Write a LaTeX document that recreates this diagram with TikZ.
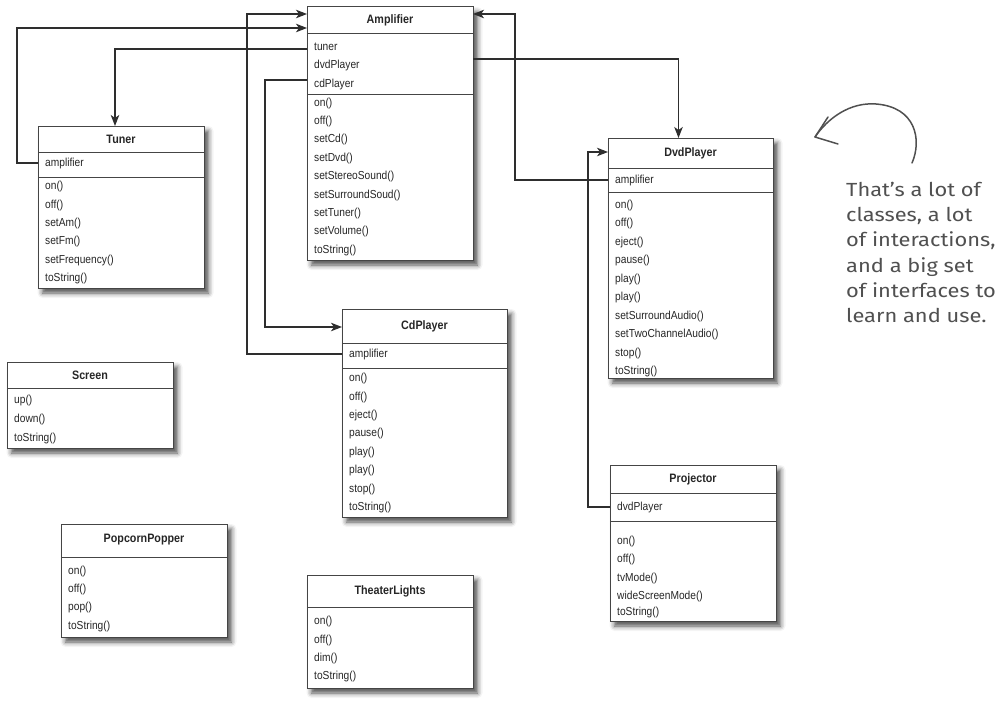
\documentclass[tikz,border=0pt]{standalone}
\usepackage{fontspec}
\setmainfont{Liberation Sans}
\newfontfamily\itemfont{Liberation Sans}[FakeStretch=0.88]
\newfontfamily\handfont{Fira Sans}[FakeStretch=1.15]
\usetikzlibrary{arrows.meta,shadows.blur,calc}
\definecolor{linec}{HTML}{2E2E2E}
\definecolor{boxc}{HTML}{454545}
\definecolor{textc}{HTML}{262626}
\definecolor{handc}{HTML}{505050}
\tikzset{
  umlbox/.style={draw=boxc, line width=1pt, fill=white, inner sep=0pt, outer sep=0pt,
    blur shadow={shadow xshift=4.5pt, shadow yshift=-5pt, shadow blur radius=5pt, shadow opacity=70}},
  boxline/.style={draw=boxc, line width=1pt},
  title/.style={font=\itemfont\fontsize{12.2}{14}\selectfont\bfseries, text=textc, inner sep=0pt},
  item/.style={font=\itemfont\fontsize{11.6}{13}\selectfont, text=textc, inner sep=0pt, anchor=west,
    text height=8.6pt, text depth=2.4pt},
  conn/.style={draw=linec, line width=1.2pt, -{Stealth[length=11pt,width=8.5pt,inset=3pt]}},
  hand/.style={font=\handfont\fontsize{19}{25.2}\selectfont, text=handc, align=left, inner sep=0pt},
}
\newcommand{\umlbox}[5]{%
  \node[umlbox, minimum width={#4-#2}, minimum height={#5-#3}] (#1) at ({(#2+#4)/2},{(#3+#5)/2}) {};}
\newcommand{\divider}[2]{\draw[boxline] (#1.west |- 0,#2) -- (#1.east |- 0,#2);}
\begin{document}
\begin{tikzpicture}[x=1pt,y=-1pt]
\useasboundingbox (0,0) rectangle (1000,709);

% ---------- Amplifier ----------
\umlbox{amp}{307}{7}{473}{260}
\divider{amp}{34}\divider{amp}{94}
\node[title] (ampT) at ($(amp.north)+(0,13.5)$) {Amplifier};
\node[item] (ampTuner) at (314,47) {tuner};
\node[item] (ampDvd) at (314,65) {dvdPlayer};
\node[item] (ampCd) at (314,84) {cdPlayer};
\node[item] (ampM1) at (314,103) {on()};
\node[item] (ampM2) at (314,121) {off()};
\node[item] (ampM3) at (314,139) {setCd()};
\node[item] (ampM4) at (314,158) {setDvd()};
\node[item] (ampM5) at (314,176) {setStereoSound()};
\node[item] (ampM6) at (314,195) {setSurroundSoud()};
\node[item] (ampM7) at (314,213) {setTuner()};
\node[item] (ampM8) at (314,231) {setVolume()};
\node[item] (ampM9) at (314,250) {toString()};

% ---------- Tuner ----------
\umlbox{tuner}{38}{126}{204}{288}
\divider{tuner}{152}\divider{tuner}{177}
\node[title] (tunerT) at ($(tuner.north)+(0,13)$) {Tuner};
\node[item] (tunerAmp) at (45,163) {amplifier};
\node[item] (tunerM1) at (45,186) {on()};
\node[item] (tunerM2) at (45,205) {off()};
\node[item] (tunerM3) at (45,223) {setAm()};
\node[item] (tunerM4) at (45,241) {setFm()};
\node[item] (tunerM5) at (45,260) {setFrequency()};
\node[item] (tunerM6) at (45,278) {toString()};

% ---------- DvdPlayer ----------
\umlbox{dvd}{608}{138}{773}{378}
\divider{dvd}{168}\divider{dvd}{192}
\node[title] (dvdT) at ($(dvd.north)+(0,15)$) {DvdPlayer};
\node[item] (dvdAmp) at (615,180) {amplifier};
\node[item] (dvdM1) at (615,205) {on()};
\node[item] (dvdM2) at (615,223) {off()};
\node[item] (dvdM3) at (615,242) {eject()};
\node[item] (dvdM4) at (615,260) {pause()};
\node[item] (dvdM5) at (615,279) {play()};
\node[item] (dvdM6) at (615,297) {play()};
\node[item] (dvdM7) at (615,316) {setSurroundAudio()};
\node[item] (dvdM8) at (615,334) {setTwoChannelAudio()};
\node[item] (dvdM9) at (615,353) {stop()};
\node[item] (dvdM10) at (615,371) {toString()};

% ---------- CdPlayer ----------
\umlbox{cd}{342}{309}{507}{517}
\divider{cd}{343}\divider{cd}{368}
\node[title] (cdT) at ($(cd.north)+(0,17)$) {CdPlayer};
\node[item] (cdAmp) at (349,354) {amplifier};
\node[item] (cdM1) at (349,378) {on()};
\node[item] (cdM2) at (349,397) {off()};
\node[item] (cdM3) at (349,415) {eject()};
\node[item] (cdM4) at (349,433) {pause()};
\node[item] (cdM5) at (349,452) {play()};
\node[item] (cdM6) at (349,470) {play()};
\node[item] (cdM7) at (349,489) {stop()};
\node[item] (cdM8) at (349,507) {toString()};

% ---------- Projector ----------
\umlbox{proj}{610}{465}{776}{621}
\divider{proj}{493}\divider{proj}{521}
\node[title] (projT) at ($(proj.north)+(0,14)$) {Projector};
\node[item] (projDvd) at (617,507) {dvdPlayer};
\node[item] (projM1) at (617,541) {on()};
\node[item] (projM2) at (617,559) {off()};
\node[item] (projM3) at (617,578) {tvMode()};
\node[item] (projM4) at (617,596) {wideScreenMode()};
\node[item] (projM5) at (617,612) {toString()};

% ---------- Screen ----------
\umlbox{screen}{7}{362}{173}{448}
\divider{screen}{388}
\node[title] (screenT) at ($(screen.north)+(0,13)$) {Screen};
\node[item] (screenM1) at (14,400) {up()};
\node[item] (screenM2) at (14,419) {down()};
\node[item] (screenM3) at (14,438) {toString()};

% ---------- PopcornPopper ----------
\umlbox{pop}{61}{524}{227}{637}
\divider{pop}{557}
\node[title] (popT) at ($(pop.north)+(0,16)$) {PopcornPopper};
\node[item] (popM1) at (68,571) {on()};
\node[item] (popM2) at (68,589) {off()};
\node[item] (popM3) at (68,607) {pop()};
\node[item] (popM4) at (68,626) {toString()};

% ---------- TheaterLights ----------
\umlbox{lights}{307}{575}{473}{688}
\divider{lights}{607}
\node[title] (lightsT) at ($(lights.north)+(0,16)$) {TheaterLights};
\node[item] (lightsM1) at (314,621) {on()};
\node[item] (lightsM2) at (314,640) {off()};
\node[item] (lightsM3) at (314,658) {dim()};
\node[item] (lightsM4) at (314,676) {toString()};

% ---------- Connectors ----------
\draw[conn] ([yshift=-2pt]ampTuner.west -| amp.west) -| ([xshift=-6pt]tuner.north);
\draw[conn] (tunerAmp.west -| tuner.west) -- ++(-21,0) |- ([yshift=-21pt]amp.north west);
\draw[conn] (cdAmp.west -| cd.west) -- ++(-95,0) |- ([yshift=-7pt]amp.north west);
\draw[conn] ([yshift=4pt]ampCd.west -| amp.west) -- ++(-42,0) |- ([yshift=-18pt]cd.north west);
\draw[conn] ([yshift=6pt]ampDvd.west -| amp.east) -| ([xshift=-12pt]dvd.north);
\draw[conn] (dvdAmp.west -| dvd.west) -- ++(-93,0) |- ([yshift=-7pt]amp.north east);
\draw[conn] (projDvd.west -| proj.west) -- ++(-22,0) |- ([yshift=-14pt]dvd.north west);

% ---------- handwritten note ----------
\node[hand, anchor=north west] (note) at (846,182)
  {That’s a lot of\\classes, a lot\\of interactions,\\and a big set\\of interfaces to\\learn and use.};
\draw[handc, line width=1.5pt, line cap=round, line join=round]
  (912,163) .. controls (922,140) and (916,107) .. (876,104)
  .. controls (850,102) and (828,118) .. (815,137);
\draw[handc, line width=1.5pt, line cap=round, line join=round]
  (828,117) -- (815,137) -- (838,144);
\end{tikzpicture}
\end{document}
